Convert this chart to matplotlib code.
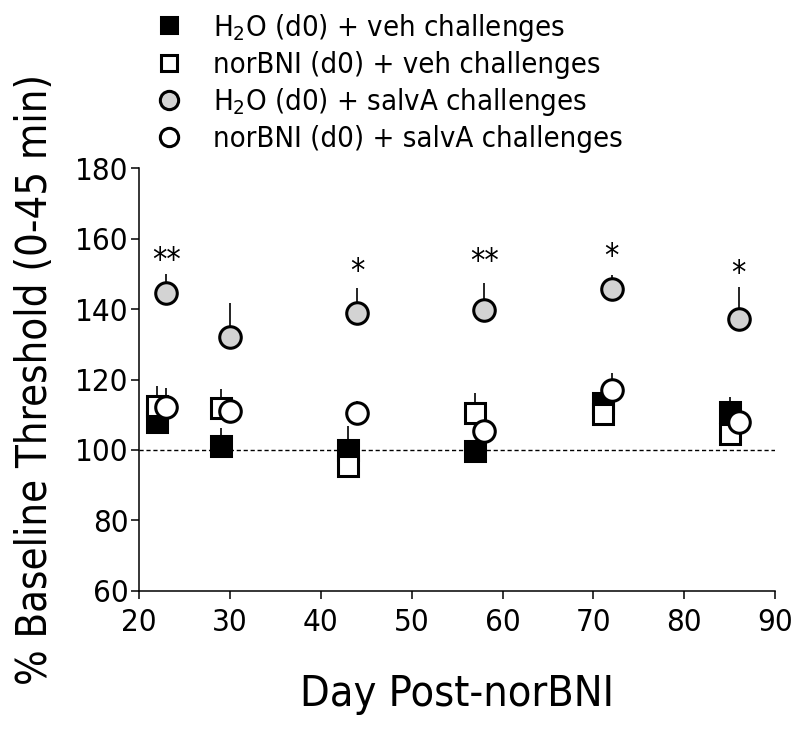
#
# python3 plot.py
#
import matplotlib
matplotlib.use("Agg")
import matplotlib.pyplot as plt
import numpy as np

plt.rcParams['font.family'] = ['DejaVu Sans']
plt.rcParams['font.stretch'] = 'condensed'

# data
days_sq = [22, 29, 43, 57, 71, 85]
days_ci = [23, 30, 44, 58, 72, 86]

h2o_veh = [107.8, 101.2, 100.0, 99.8, 113.3, 110.9]
h2o_veh_sem = [3.0, 5.0, 6.9, 2.0, 2.0, 4.0]
nor_veh = [112.6, 111.8, 95.3, 110.4, 110.2, 104.5]
nor_veh_sem = [5.6, 5.4, 2.0, 5.9, 2.0, 2.0]
h2o_salv = [144.7, 132.2, 139.0, 139.8, 145.6, 137.1]
h2o_salv_sem = [5.2, 9.5, 6.9, 7.7, 4.1, 9.1]
nor_salv = [112.3, 111.2, 110.4, 105.5, 117.0, 108.0]
nor_salv_sem = [5.4, 2.0, 3.6, 2.0, 5.0, 2.0]

stars = ['**', '', '*', '**', '*', '*']
star_y = [153.8, 0, 150.6, 153.5, 154.9, 150.2]

labels = [r'H$_2$O (d0) + veh challenges',
          'norBNI (d0) + veh challenges',
          r'H$_2$O (d0) + salvA challenges',
          'norBNI (d0) + salvA challenges']

fig = plt.figure(figsize=(8, 7.32), dpi=100)
ax = fig.add_axes([0.174, 0.193, 0.795, 0.577])

ax.axhline(100, color='black', linestyle='--', linewidth=1.0, dashes=(3, 2), zorder=1)

series = [
    (days_sq, h2o_veh, h2o_veh_sem, 's', 'black'),
    (days_sq, nor_veh, nor_veh_sem, 's', 'white'),
    (days_ci, h2o_salv, h2o_salv_sem, 'o', '#d3d3d3'),
    (days_ci, nor_salv, nor_salv_sem, 'o', 'white'),
]
handles = []
for i, (x, y, e, m, fc) in enumerate(series):
    y = np.array(y)
    e = np.array(e)
    ax.errorbar(x, y, yerr=[np.zeros_like(e), e], fmt='none', ecolor='black',
                elinewidth=1.2, capsize=0, zorder=2 + i)
    ms = 14 if m == 's' else 15.5
    h, = ax.plot(x, y, linestyle='none', marker=m, markersize=ms,
                 markerfacecolor=fc, markeredgecolor='black', markeredgewidth=2.2,
                 zorder=2.5 + i)
    handles.append(h)

for x, s, sy in zip(days_ci, stars, star_y):
    if s:
        ax.text(x, sy, s, ha='center', va='center', fontsize=23)

ax.set_xlim(20, 90)
ax.set_ylim(60, 180)
ax.set_xticks(range(20, 91, 10))
ax.set_yticks(range(60, 181, 20))
ax.spines['top'].set_visible(False)
ax.spines['right'].set_visible(False)
for sp in ['left', 'bottom']:
    ax.spines[sp].set_linewidth(1.1)
ax.tick_params(direction='out', length=5.5, width=1.1, labelsize=22.5, pad=2)
ax.tick_params(axis='x', pad=7)

ax.set_xlabel('Day Post-norBNI', fontsize=31, labelpad=26)
ax.set_ylabel('% Baseline Threshold (0-45 min)', fontsize=30, labelpad=14)

fig.legend(handles, labels, loc='upper left', bbox_to_anchor=(0.157, 1.02),
           frameon=False, fontsize=21, labelspacing=0.25, handletextpad=0.9,
           handlelength=1.2, markerscale=0.85)

plt.savefig('out.png', dpi=100)
